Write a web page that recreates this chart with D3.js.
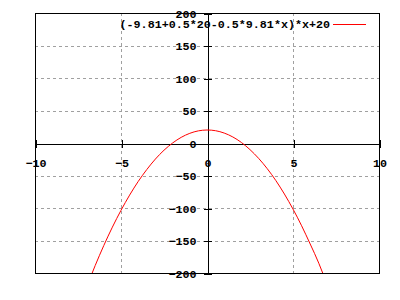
<!DOCTYPE html>
<html>
<head>
<meta charset="utf-8">
<script src="https://cdn.jsdelivr.net/npm/d3@7"></script>
<style>
  body { margin: 0; background: #fff; }
  svg { display: block; }
  text { font-family: "Liberation Mono", "DejaVu Sans Mono", monospace; font-weight: bold; font-size: 11.7px; fill: #000; }
</style>
</head>
<body>
<svg></svg>
<script>
// values
let xValues = [-7, -6.5, -6, -5.5, -5, -4.5, -4, -3.5, -3, -2.5, -2, -1.5, -1, -0.5, 0,
               0.5, 1, 1.5, 2, 2.5, 3, 3.5, 4, 4.5, 5, 5.5, 6, 6.5, 7];
let yValues = [-221.7, -188.5, -157.7, -129.4, -103.6, -80.2, -59.2, -40.8, -24.7, -11.1, 0.0, 8.7, 14.9, 18.7, 20.0,
               18.9, 15.3, 9.3, 0.8, -10.2, -23.6, -39.4, -57.7, -78.5, -101.7, -127.3, -155.4, -185.0, -219.0];
let xTicks = [-10, -5, 0, 5, 10];
let yTicks = [-200, -150, -100, -50, 0, 50, 100, 150, 200];
let legendLabel = "(-9.81+0.5*20-0.5*9.81*x)*x+20";

let svgWidth = 400;
let svgHeight = 300;
let plotLeft = 35, plotRight = 379, plotTop = 13, plotBottom = 273;

let scaledX = d3.scaleLinear().domain([-10, 10]).range([plotLeft, plotRight]);
let scaledY = d3.scaleLinear().domain([-200, 200]).range([plotBottom, plotTop]);

let svg = d3.select('svg')
    .attr('width', svgWidth)
    .attr('height', svgHeight);

// grid
let grid = svg.append('g')
    .attr('stroke', '#a0a0a0')
    .attr('stroke-width', 1)
    .attr('stroke-dasharray', '3,3')
    .attr('shape-rendering', 'crispEdges');
grid.selectAll('line.gx')
    .data(xTicks.filter(d => d !== -10 && d !== 10 && d !== 0)).enter().append('line')
    .attr('x1', d => scaledX(d) + 0.5).attr('x2', d => scaledX(d) + 0.5)
    .attr('y1', plotTop).attr('y2', plotBottom);
grid.selectAll('line.gy')
    .data(yTicks.filter(d => d !== -200 && d !== 200 && d !== 0)).enter().append('line')
    .attr('x1', plotLeft).attr('x2', plotRight)
    .attr('y1', d => scaledY(d) + 0.5).attr('y2', d => scaledY(d) + 0.5);

// zero axes
let axX = d3.axisBottom(scaledX).tickValues(xTicks).tickSizeOuter(0).tickSize(4).tickPadding(11);
let gx = svg.append('g')
    .attr('transform', 'translate(0.5,' + (Math.round(scaledY(0)) + 0.5) + ')')
    .call(axX);
gx.selectAll('.tick line').attr('y1', -4).attr('y2', 4);

let axY = d3.axisLeft(scaledY).tickValues(yTicks).tickSizeOuter(0).tickSize(4).tickPadding(7);
let gy = svg.append('g')
    .attr('transform', 'translate(' + (Math.round(scaledX(0)) + 0.5) + ',0.5)')
    .call(axY);
gy.selectAll('.tick line').attr('x1', -4).attr('x2', 4);

svg.selectAll('.domain, .tick line')
    .attr('stroke', '#000')
    .attr('shape-rendering', 'crispEdges');
svg.selectAll('.tick text')
    .attr('font-family', null)
    .attr('font-size', null);

// border
svg.append('rect')
    .attr('x', plotLeft + 0.5).attr('y', plotTop + 0.5)
    .attr('width', plotRight - plotLeft).attr('height', plotBottom - plotTop)
    .attr('fill', 'none')
    .attr('stroke', '#000')
    .attr('shape-rendering', 'crispEdges');

// curve
svg.append('clipPath').attr('id', 'plotClip')
    .append('rect')
    .attr('x', plotLeft).attr('y', plotTop)
    .attr('width', plotRight - plotLeft).attr('height', plotBottom - plotTop);

let lineGenerator = d3.line()
    .x(i => scaledX(xValues[i]))
    .y(i => scaledY(yValues[i]))
    .curve(d3.curveNatural);

svg.append('path')
    .attr('clip-path', 'url(#plotClip)')
    .attr('fill', 'none')
    .attr('stroke', '#ff0000')
    .attr('stroke-width', 1)
    .attr('d', lineGenerator(d3.range(xValues.length)));

// key
let keyY = 24;
svg.append('text')
    .attr('x', 330).attr('y', keyY)
    .attr('dy', '0.35em')
    .attr('text-anchor', 'end')
    .text(legendLabel);
svg.append('line')
    .attr('x1', 333).attr('x2', 366)
    .attr('y1', keyY + 0.5).attr('y2', keyY + 0.5)
    .attr('stroke', '#ff0000')
    .attr('shape-rendering', 'crispEdges');
</script>
</body>
</html>
